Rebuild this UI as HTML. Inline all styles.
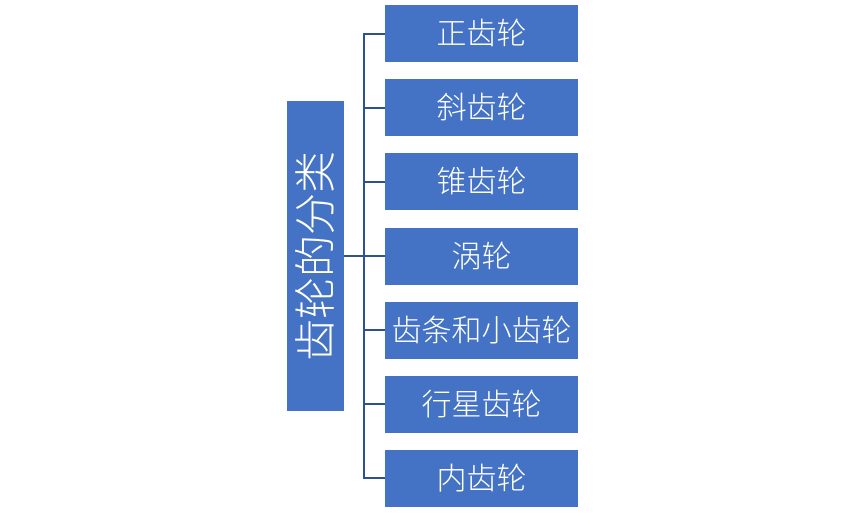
<!DOCTYPE html>
<html><head><meta charset="utf-8"><style>
body{margin:0;width:865px;height:520px;background:#fff;position:relative;overflow:hidden;font-family:"Liberation Sans","Noto Sans CJK SC",sans-serif}
.b{position:absolute;left:385px;width:193px;height:57px;background:#4472C4;color:#fff;font-size:30px;font-weight:300;display:flex;align-items:center;justify-content:center;box-sizing:border-box;padding-bottom:6px}
.l{position:absolute;background:#2F528F}
</style></head><body>
<div style="position:absolute;left:287px;top:101px;width:57px;height:310px;background:#4472C4"></div>
<div style="position:absolute;left:313px;top:256px;transform:translate(-50%,-50%) rotate(-90deg);color:#fff;font-size:42px;font-weight:300;white-space:nowrap">齿轮的分类</div>
<div class="l" style="left:344px;top:255px;width:20px;height:2px"></div>
<div class="l" style="left:363px;top:33px;width:2px;height:446px"></div>
<div class="l" style="left:363px;top:33px;width:22px;height:2px"></div>
<div class="l" style="left:363px;top:107px;width:22px;height:2px"></div>
<div class="l" style="left:363px;top:181px;width:22px;height:2px"></div>
<div class="l" style="left:363px;top:255px;width:22px;height:2px"></div>
<div class="l" style="left:363px;top:329px;width:22px;height:2px"></div>
<div class="l" style="left:363px;top:403px;width:22px;height:2px"></div>
<div class="l" style="left:363px;top:477px;width:22px;height:2px"></div>
<div class="b" style="top:5px">正齿轮</div>
<div class="b" style="top:79px">斜齿轮</div>
<div class="b" style="top:153px">锥齿轮</div>
<div class="b" style="top:228px">涡轮</div>
<div class="b" style="top:302px">齿条和小齿轮</div>
<div class="b" style="top:376px">行星齿轮</div>
<div class="b" style="top:450px">内齿轮</div>
</body></html>
